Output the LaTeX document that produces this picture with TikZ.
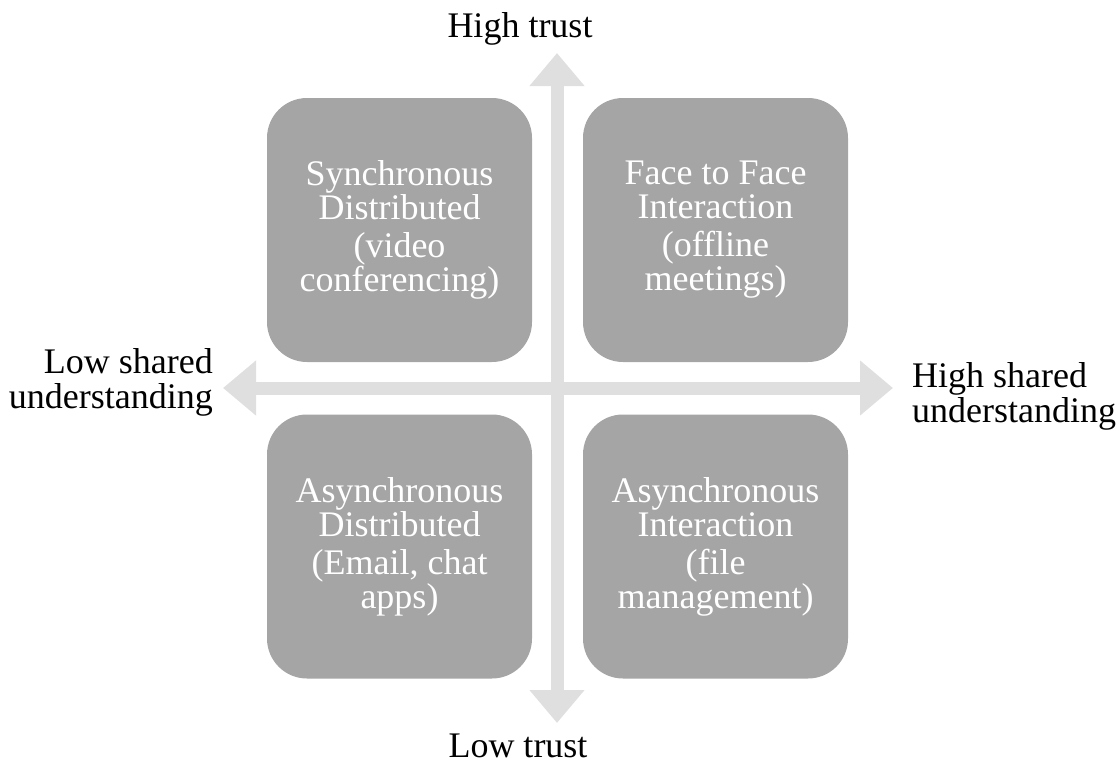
\documentclass[tikz,border=0pt]{standalone}
\usepackage{fontspec}
\setmainfont{Liberation Serif}
\definecolor{boxgrey}{HTML}{A5A5A5}
\definecolor{axisgrey}{HTML}{DFDFDF}
\usetikzlibrary{arrows.meta,positioning}

\begin{document}
\begin{tikzpicture}[
  x=1pt, y=-1pt,
  quadrant/.style={rectangle, rounded corners=40, fill=boxgrey, text=white, minimum width=265, minimum height=264, inner sep=0, align=center, font=\fontsize{36}{34}\selectfont},
  axislabel/.style={inner sep=0, font=\fontsize{36}{35}\selectfont},
  axisline/.style={draw=axisgrey, line width=13, {Triangle[width=53,length=33]}-{Triangle[width=53,length=33]}},
]
\useasboundingbox (0,0) rectangle (1120,763);
% axes
\coordinate (top) at (557,53);
\coordinate (bottom) at (557,723);
\coordinate (left) at (223,388);
\coordinate (right) at (893,388);
\draw[axisline] (bottom) -- (top);
\draw[axisline] (left) -- (right);
% quadrants
\node[quadrant] (sync) at (399.5,230) {Synchronous\\Distributed\\[4pt](video\\conferencing)};
\node[quadrant] (f2f) at (715.5,230) {Face to Face\\Interaction\\[4pt](offline\\meetings)};
\node[quadrant] (asyncdist) at (399.5,546.5) {Asynchronous\\Distributed\\[4pt](Email, chat\\apps)};
\node[quadrant] (asyncint) at (715.5,546.5) {Asynchronous\\Interaction\\[4pt](file\\management)};
% axis labels
\node[axislabel, anchor=base] (hightrust) at (520,37) {High trust};
\node[axislabel, anchor=base] (lowtrust) at (518,757) {Low trust};
\node[axislabel, anchor=east, align=right] (lowsu) at (213,382) {Low shared\\understanding};
\node[axislabel, anchor=west, align=left] (highsu) at (912,396) {High shared\\understanding};
\end{tikzpicture}
\end{document}
